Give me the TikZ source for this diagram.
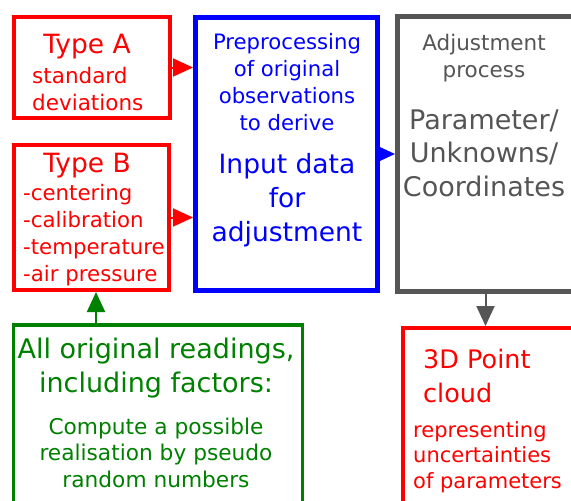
\documentclass[tikz,border=0pt]{standalone}
\usepackage{fontspec}
\setmainfont{DejaVu Sans}
\usetikzlibrary{arrows.meta}

\definecolor{darkgreen}{RGB}{0,128,0}
\definecolor{darkgray}{RGB}{85,85,85}

\tikzstyle{frame}=[draw, line width=4pt, inner sep=0pt]
\tikzstyle{small}=[inner sep=0pt, font=\fontsize{21.5}{27}\selectfont]
\tikzstyle{big}=[inner sep=0pt, font=\fontsize{26.5}{34}\selectfont]
\tikzstyle{link}=[line width=2pt, -{Triangle[length=20pt,width=18pt]}]

\begin{document}
\begin{tikzpicture}[x=1pt,y=-1pt]
			\useasboundingbox (0,0) rectangle (571,501);
			% boxes
			\node[frame, red, minimum width=156pt, minimum height=101pt] (typeA) at (92,67.5) {};
			\node[frame, red, minimum width=155pt, minimum height=145pt] (typeB) at (91.5,217.5) {};
			\node[frame, blue, line width=5pt, minimum width=182pt, minimum height=273pt] (prep) at (286.5,154) {};
			\node[frame, darkgray, line width=5pt, minimum width=176pt, minimum height=275pt] (adjust) at (485.5,154) {};
			\node[frame, darkgreen, line width=3.5pt, minimum width=289pt, minimum height=200pt] (readings) at (158,425) {};
			\node[frame, red, minimum width=172pt, minimum height=200pt] (cloud) at (489,428) {};
			% texts (base = baseline of the last line)
			\node[big, red, anchor=base] (titleA) at (87,53) {Type A};
			\node[small, red, align=left, anchor=base west] (textA) at (32,110) {standard\\deviations};
			\node[big, red, anchor=base] (titleB) at (87,172) {Type B};
			\node[small, red, font=\fontsize{21.3}{26.7}\selectfont, align=left, anchor=base west] (textB) at (23,281)
				{-centering\\-calibration\\-temperature\\-air pressure};
			\node[small, blue, font=\fontsize{21.2}{27}\selectfont, align=center, anchor=base] (textP) at (287,130)
				{Preprocessing\\of original\\observations\\to derive};
			\node[big, blue, align=center, anchor=base] (titleP) at (287,241) {Input data\\for\\adjustment};
			\node[small, darkgray, align=center, anchor=base] (textU) at (484,77) {Adjustment\\process};
			\node[big, darkgray, font=\fontsize{27}{33.5}\selectfont, align=center, anchor=base] (titleU) at (484,196)
				{Parameter/\\Unknowns/\\Coordinates};
			\node[big, darkgreen, font=\fontsize{27}{34}\selectfont, align=center, anchor=base] (titleR) at (156,392)
				{All original readings,\\including factors:};
			\node[small, darkgreen, font=\fontsize{21.7}{26.5}\selectfont, align=center, anchor=base] (textR) at (156,487)
				{Compute a possible\\realisation by pseudo\\random numbers};
			\node[big, red, font=\fontsize{25.5}{34}\selectfont, align=left, anchor=base west] (titleC) at (423,402) {3D Point\\cloud};
			\node[small, red, font=\fontsize{21}{25.5}\selectfont, align=left, anchor=base west] (textC) at (413,488)
				{representing\\uncertainties\\of parameters};
			% arrows
			\draw[link, red] (typeA.east) -- (typeA.east -| prep.west);
			\draw[link, red] (typeB.east) -- (typeB.east -| prep.west);
			\draw[link, blue] (prep.east) -- (prep.east -| adjust.west);
			\draw[link, darkgray] (adjust.south) -- (adjust.south |- cloud.north);
			\draw[link, darkgreen] ([xshift=4.5pt]typeB.south |- readings.north) -- ([xshift=4.5pt]typeB.south);
\end{tikzpicture}
\end{document}
